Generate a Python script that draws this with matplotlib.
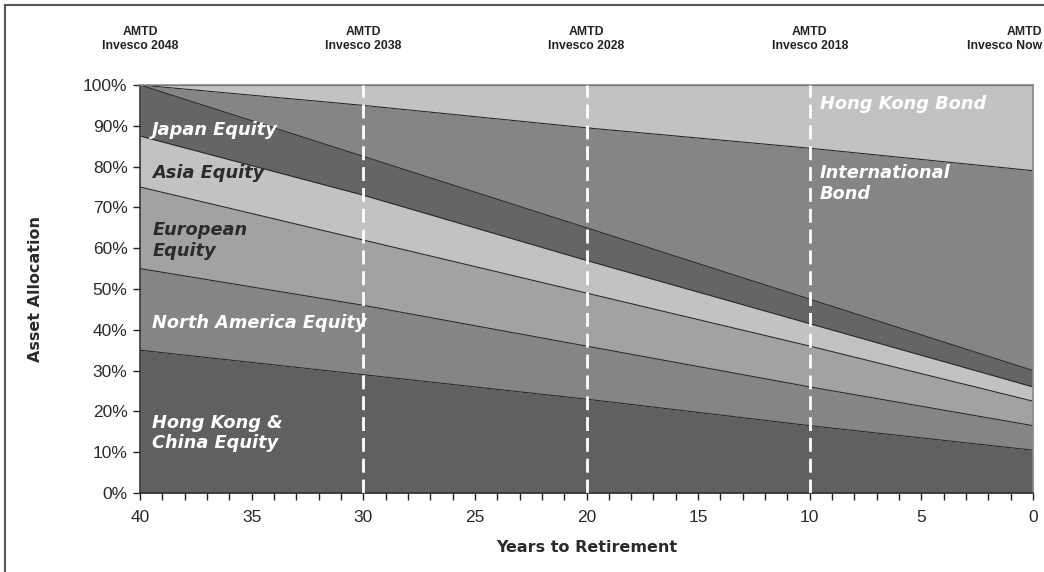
import matplotlib
matplotlib.use("Agg")
import matplotlib.pyplot as plt
import numpy as np
from matplotlib.ticker import MultipleLocator, FuncFormatter
from matplotlib.patches import Rectangle

# Data
years = [40, 30, 20, 10, 0]
hk_china_equity = [35, 29, 23, 16.5, 10.5]
north_america_equity = [20, 17, 13, 9.5, 6]
european_equity = [20, 16, 13, 10, 6]
asia_equity = [12.5, 11, 8, 5.5, 3.5]
japan_equity = [12.5, 9.5, 8, 6, 4]
international_bond = [0, 12.5, 24.5, 37, 49]
hong_kong_bond = [0, 5, 10.5, 15.5, 21]
fund_labels = ["AMTD\nInvesco 2048", "AMTD\nInvesco 2038", "AMTD\nInvesco 2028",
               "AMTD\nInvesco 2018", "AMTD\nInvesco Now"]
fund_years = [40, 30, 20, 10, 0]
milestones = [30, 20, 10]

series = [hk_china_equity, north_america_equity, european_equity, asia_equity,
          japan_equity, international_bond, hong_kong_bond]
colors = ["#606062", "#858587", "#a2a2a4", "#c2c2c4", "#656567", "#858587", "#c2c2c4"]

fig = plt.figure(figsize=(10.44, 5.72), dpi=100)
ax = fig.add_axes([140/1044, 1-493/572, (1033-140)/1044, (493-85)/572])

x = np.array(years, dtype=float)
cum = np.zeros(len(x))
for s, c in zip(series, colors):
    top = cum + np.array(s, dtype=float)
    ax.fill_between(x, cum, top, color=c, linewidth=0, zorder=1)
    ax.plot(x, top, color="#2a2a2a", linewidth=0.8, zorder=2)
    cum = top

for m in milestones:
    ax.axvline(m, color="white", linewidth=2, linestyle=(0, (5, 2.5)), zorder=3)

ax.set_xlim(40, 0)
ax.set_ylim(0, 100)
ax.xaxis.set_major_locator(MultipleLocator(5))
ax.xaxis.set_minor_locator(MultipleLocator(1))
ax.yaxis.set_major_locator(MultipleLocator(10))
ax.yaxis.set_major_formatter(FuncFormatter(lambda v, p: f"{int(v)}%"))
ax.tick_params(axis="both", which="both", direction="out", length=5, width=1,
               colors="#222222", labelsize=12.5)
ax.tick_params(axis="x", which="minor", length=5)
ax.tick_params(axis="x", pad=7)
ax.tick_params(axis="y", pad=4)
for lab in ax.get_xticklabels() + ax.get_yticklabels():
    lab.set_fontfamily("Liberation Sans")
    lab.set_color("#2a2a2a")
for sp in ["left", "bottom"]:
    ax.spines[sp].set_color("#333333")
    ax.spines[sp].set_linewidth(1.2)
for sp in ["top", "right"]:
    ax.spines[sp].set_color("#8a8a8a")
    ax.spines[sp].set_linewidth(1.2)

ax.set_xlabel("Years to Retirement", fontsize=11.5, fontweight="bold",
              family="DejaVu Sans", color="#2a2a2a", labelpad=11)
ax.set_ylabel("Asset Allocation", fontsize=11.5, fontweight="bold",
              family="DejaVu Sans", color="#2a2a2a", labelpad=29)

for fy, fl in zip(fund_years, fund_labels):
    if fy == 0:
        fig.text(1042/1044, 1 - 39/572, fl, ha="right", va="center", fontsize=8.8,
                 fontweight="bold", family="Liberation Sans", color="#222222",
                 linespacing=1.3, multialignment="right")
    else:
        ax.text(fy, 1.113, fl, transform=ax.get_xaxis_transform(), ha="center",
                va="center", fontsize=8.8, fontweight="bold", family="Liberation Sans",
                color="#222222", linespacing=1.3, clip_on=False)

lab_kw = dict(fontsize=12.8, fontweight="bold", style="italic", family="DejaVu Sans",
              ha="left", va="center", zorder=4, linespacing=1.2)
ax.text(39.45, 89.0, "Japan Equity", color="white", **lab_kw)
ax.text(39.45, 78.4, "Asia Equity", color="#2b2b2b", **lab_kw)
ax.text(39.45, 61.8, "European\nEquity", color="#2b2b2b", **lab_kw)
ax.text(39.45, 41.7, "North America Equity", color="white", **lab_kw)
ax.text(39.45, 14.7, "Hong Kong &\nChina Equity", color="white", **lab_kw)
ax.text(9.55, 95.3, "Hong Kong Bond", color="white", **lab_kw)
ax.text(9.55, 75.9, "International\nBond", color="white", **lab_kw)

fig.patches.append(Rectangle((5/1044, -0.05), 1.2, 1.05 - 5/572, transform=fig.transFigure,
                             fill=False, edgecolor="#555555", linewidth=1.5))

fig.savefig("out.png", dpi=100)
